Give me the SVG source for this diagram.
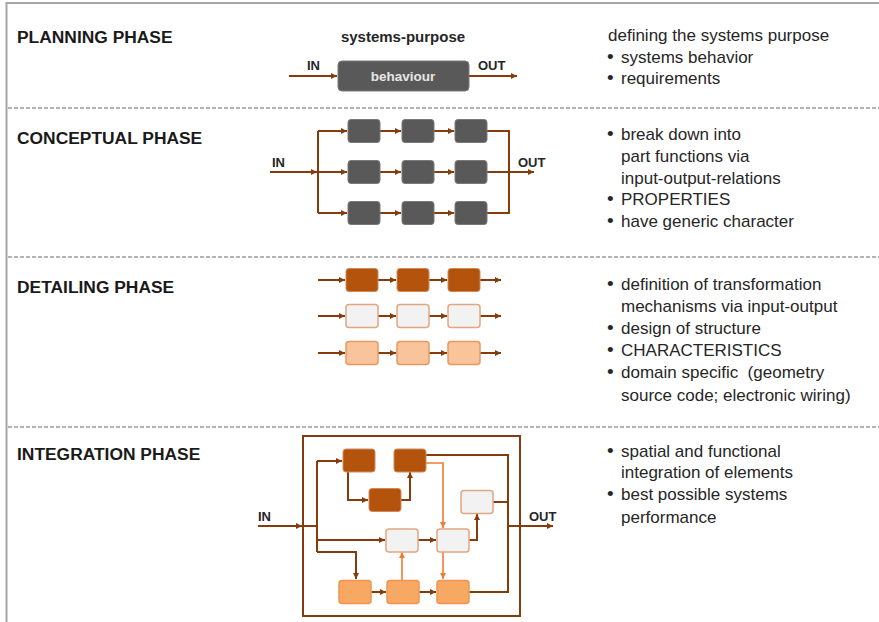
<svg xmlns="http://www.w3.org/2000/svg" width="879" height="622" viewBox="0 0 879 622">
<defs>
<marker id="ah" markerUnits="userSpaceOnUse" markerWidth="7" markerHeight="7" refX="6" refY="3" orient="auto"><path d="M0,0 L6,3 L0,6 z" fill="#843C0C"/></marker>
<marker id="ao" markerUnits="userSpaceOnUse" markerWidth="7" markerHeight="7" refX="6" refY="3" orient="auto"><path d="M0,0 L6,3 L0,6 z" fill="#ED7D31"/></marker>
<style>
.title{font-family:"Liberation Sans",Arial,sans-serif;font-weight:bold;font-size:17.4px;fill:#1a1a1a}
.lbl{font-family:"Liberation Sans",Arial,sans-serif;font-weight:bold;font-size:13px;fill:#262626}
.txt{font-family:"Liberation Sans",Arial,sans-serif;font-size:17px;fill:#262626}
.bul{font-size:19px}
.dash{stroke:#9a9a9a;stroke-width:1.3;stroke-dasharray:4 2;fill:none}
.c{stroke:#843C0C;stroke-width:2;fill:none}
.ca{stroke:#843C0C;stroke-width:2;fill:none;marker-end:url(#ah)}
.co{stroke:#ED7D31;stroke-width:1.6;fill:none;marker-end:url(#ao)}
.g{fill:#595959;stroke:#7a7a7a;stroke-width:1}
.d{fill:#B4530C;stroke:#D08A5C;stroke-width:1}
.l{fill:#F2F2F2;stroke:#E2A680;stroke-width:1.5}
.o{fill:#F9C49C;stroke:#E8995F;stroke-width:1.5}
.oi{fill:#F7A863;stroke:#EE9450;stroke-width:1.5}
</style>
</defs>
<rect width="879" height="622" fill="#ffffff"/>
<path d="M6.5,622 V3 H879" stroke="#A6A6A6" stroke-width="2" fill="none"/>
<g id="separators">
<line class="dash" x1="8" y1="108" x2="879" y2="108"/>
<line class="dash" x1="8" y1="257" x2="879" y2="257"/>
<line class="dash" x1="8" y1="427" x2="879" y2="427"/>
</g>
<g id="titles">
<text class="title" x="17" y="43">PLANNING PHASE</text>
<text class="title" x="17" y="144">CONCEPTUAL PHASE</text>
<text class="title" x="17" y="293">DETAILING PHASE</text>
<text class="title" x="17" y="460">INTEGRATION PHASE</text>
</g>
<g id="descriptions" class="txt">
<text x="608" y="41">defining the systems purpose</text>
<text class="bul" x="607" y="63">•</text><text x="621" y="63">systems behavior</text>
<text class="bul" x="607" y="84">•</text><text x="621" y="84">requirements</text>
<text class="bul" x="607" y="140">•</text><text x="621" y="140">break down into</text>
<text x="621" y="162">part functions via</text>
<text x="621" y="184">input-output-relations</text>
<text class="bul" x="607" y="205">•</text><text x="621" y="205">PROPERTIES</text>
<text class="bul" x="607" y="227">•</text><text x="621" y="227">have generic character</text>
<text class="bul" x="607" y="290">•</text><text x="621" y="290">definition of transformation</text>
<text x="621" y="312">mechanisms via input-output</text>
<text class="bul" x="607" y="334">•</text><text x="621" y="334">design of structure</text>
<text class="bul" x="607" y="356">•</text><text x="621" y="356">CHARACTERISTICS</text>
<text class="bul" x="607" y="378">•</text><text x="621" y="378" xml:space="preserve">domain specific  (geometry</text>
<text x="621" y="401">source code; electronic wiring)</text>
<text class="bul" x="607" y="457">•</text><text x="621" y="457">spatial and functional</text>
<text x="621" y="478">integration of elements</text>
<text class="bul" x="607" y="500">•</text><text x="621" y="500">best possible systems</text>
<text x="621" y="523">performance</text>
</g>
<g id="connectors">
<path class="ca" d="M289,76 H337"/>
<path class="ca" d="M469,76 H517"/>
<path class="ca" d="M270,172 H317"/>
<path class="c" d="M318,131 V213"/>
<path class="ca" d="M318,131 H347"/>
<path class="ca" d="M318,172 H347"/>
<path class="ca" d="M318,213 H347"/>
<path class="ca" d="M380,131 H401"/>
<path class="ca" d="M380,172 H401"/>
<path class="ca" d="M380,213 H401"/>
<path class="ca" d="M434,131 H454"/>
<path class="ca" d="M434,172 H454"/>
<path class="ca" d="M434,213 H454"/>
<path class="c" d="M487,131 H509 V213 H487"/>
<path class="ca" d="M487,172 H534"/>
<path class="ca" d="M318,280 H345"/>
<path class="ca" d="M378,280 H396"/>
<path class="ca" d="M429,280 H447"/>
<path class="ca" d="M480,280 H501"/>
<path class="ca" d="M318,316 H345"/>
<path class="ca" d="M378,316 H396"/>
<path class="ca" d="M429,316 H447"/>
<path class="ca" d="M480,316 H501"/>
<path class="ca" d="M318,353 H345"/>
<path class="ca" d="M378,353 H396"/>
<path class="ca" d="M429,353 H447"/>
<path class="ca" d="M480,353 H501"/>
<path class="ca" d="M258,526 H302"/>
<path class="c" d="M303,526 H317"/>
<path class="c" d="M317,461 V552"/>
<path class="ca" d="M317,461 H342"/>
<path class="ca" d="M317,540 H385"/>
<path class="ca" d="M317,552 H356 V579"/>
<path class="ca" d="M348,472 V500 H368"/>
<path class="ca" d="M401,500 H410 V472"/>
<path class="c" d="M426,455 H508 V592 H469"/>
<path class="c" d="M493,502 H508"/>
<path class="co" d="M426,463 H443 V528"/>
<path class="ca" d="M418,540 H436"/>
<path class="ca" d="M469,540 H477 V514"/>
<path class="co" d="M443,552 V579"/>
<path class="co" d="M402,580 V552"/>
<path class="ca" d="M371,592 H386"/>
<path class="ca" d="M418,592 H436"/>
<path class="ca" d="M508,526 H553"/>
</g>
<g id="planning">
<text class="lbl" x="403" y="42" text-anchor="middle" style="font-size:15px">systems-purpose</text>
<text class="lbl" x="307" y="70">IN</text>
<text class="lbl" x="478" y="70">OUT</text>
<g id="behaviour">
<rect class="g" x="338" y="61" width="131" height="30" rx="4"/>
<text class="lbl" x="403" y="81" text-anchor="middle" style="font-size:13.5px;fill:#E6E6E6">behaviour</text>
</g>
</g>
<g id="conceptual">
<text class="lbl" x="272" y="167">IN</text>
<text class="lbl" x="518" y="167">OUT</text>
<rect id="c11" class="g" x="348" y="119.5" width="32" height="23" rx="3"/>
<rect id="c12" class="g" x="402" y="119.5" width="32" height="23" rx="3"/>
<rect id="c13" class="g" x="455" y="119.5" width="32" height="23" rx="3"/>
<rect id="c21" class="g" x="348" y="160.5" width="32" height="23" rx="3"/>
<rect id="c22" class="g" x="402" y="160.5" width="32" height="23" rx="3"/>
<rect id="c23" class="g" x="455" y="160.5" width="32" height="23" rx="3"/>
<rect id="c31" class="g" x="348" y="201.5" width="32" height="23" rx="3"/>
<rect id="c32" class="g" x="402" y="201.5" width="32" height="23" rx="3"/>
<rect id="c33" class="g" x="455" y="201.5" width="32" height="23" rx="3"/>
</g>
<g id="detailing">
<rect id="d11" class="d" x="346" y="268.5" width="32" height="23" rx="3"/>
<rect id="d12" class="d" x="397" y="268.5" width="32" height="23" rx="3"/>
<rect id="d13" class="d" x="448" y="268.5" width="32" height="23" rx="3"/>
<rect id="d21" class="l" x="346" y="304.5" width="32" height="23" rx="3"/>
<rect id="d22" class="l" x="397" y="304.5" width="32" height="23" rx="3"/>
<rect id="d23" class="l" x="448" y="304.5" width="32" height="23" rx="3"/>
<rect id="d31" class="o" x="346" y="341.5" width="32" height="23" rx="3"/>
<rect id="d32" class="o" x="397" y="341.5" width="32" height="23" rx="3"/>
<rect id="d33" class="o" x="448" y="341.5" width="32" height="23" rx="3"/>
</g>
<g id="integration">
<rect id="frame" x="303" y="436" width="217" height="180" fill="none" stroke="#843C0C" stroke-width="2"/>
<text class="lbl" x="258" y="521">IN</text>
<text class="lbl" x="529" y="521">OUT</text>
<rect id="i-d1" class="d" x="343" y="449" width="32" height="23" rx="3"/>
<rect id="i-d2" class="d" x="394" y="449" width="32" height="23" rx="3"/>
<rect id="i-d3" class="d" x="369" y="488.5" width="32" height="23" rx="3"/>
<rect id="i-l1" class="l" x="461" y="490.5" width="32" height="23" rx="3"/>
<rect id="i-l2" class="l" x="386" y="529" width="32" height="23" rx="3"/>
<rect id="i-l3" class="l" x="437" y="529" width="32" height="23" rx="3"/>
<rect id="i-o1" class="oi" x="339" y="580.5" width="32" height="23" rx="3"/>
<rect id="i-o2" class="oi" x="387" y="580.5" width="32" height="23" rx="3"/>
<rect id="i-o3" class="oi" x="437" y="580.5" width="32" height="23" rx="3"/>
</g>
</svg>
